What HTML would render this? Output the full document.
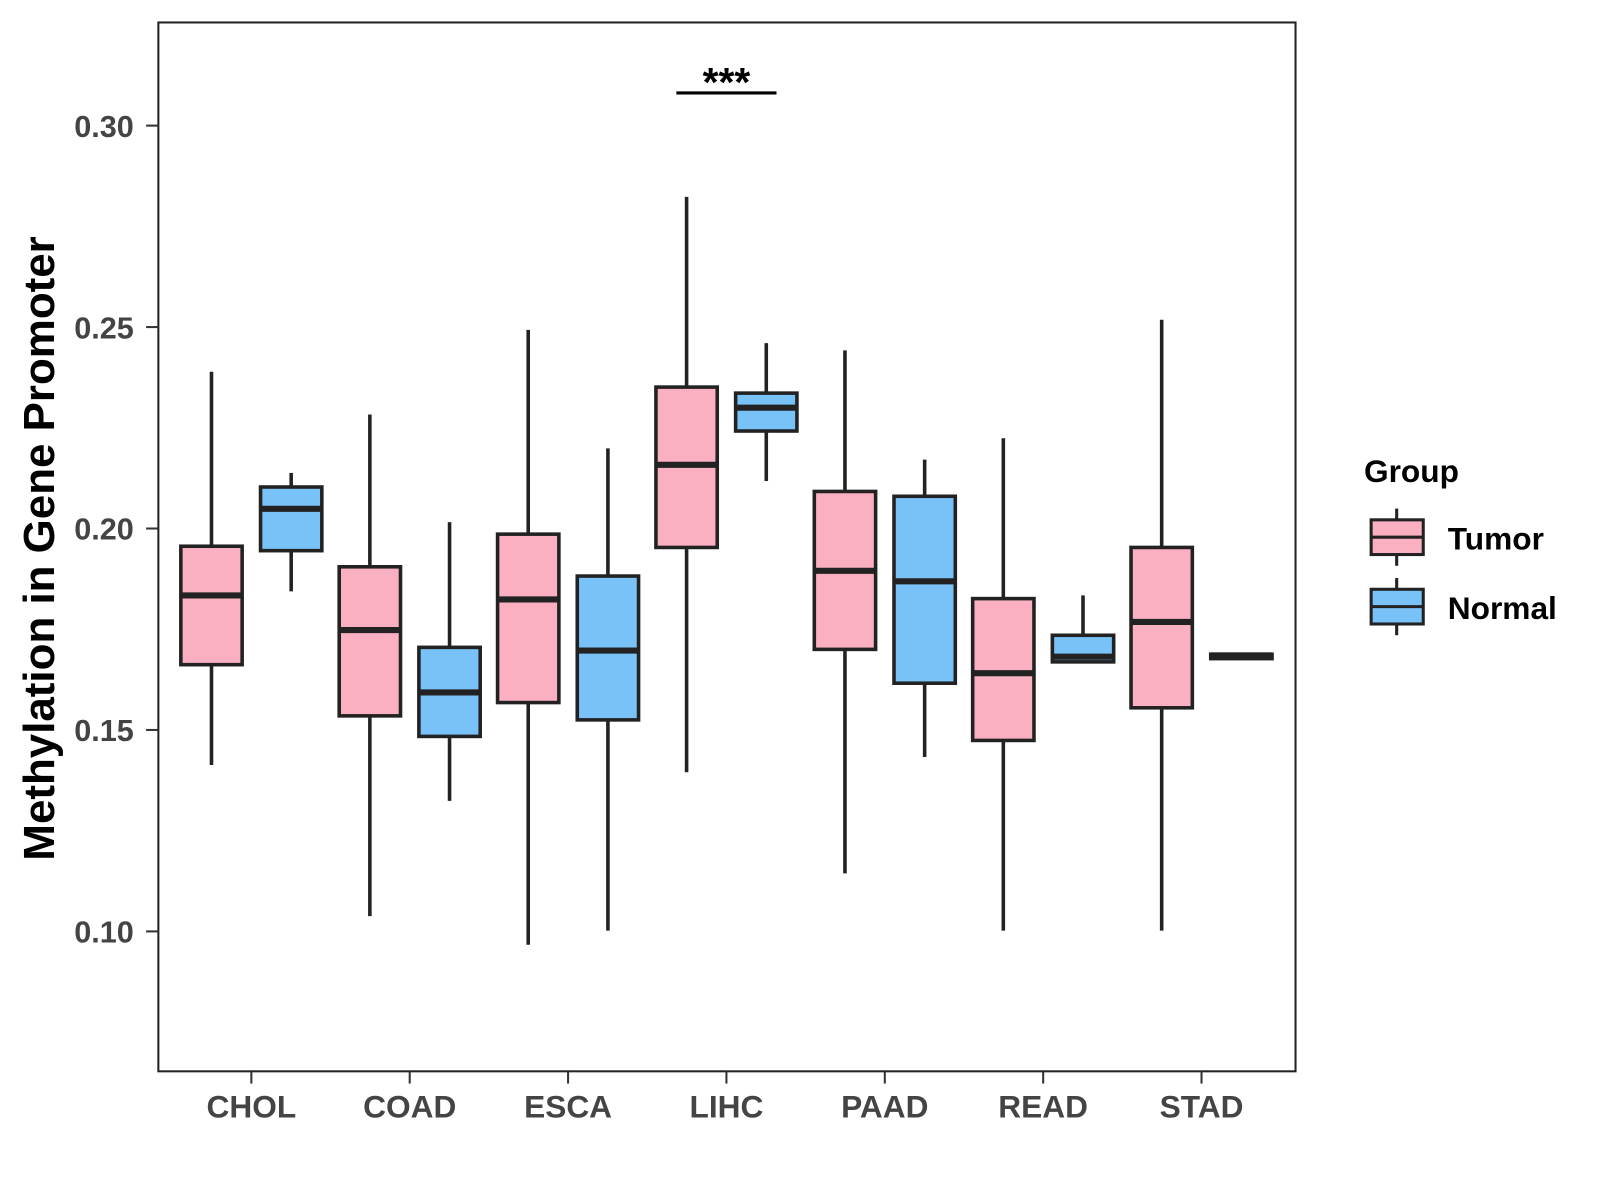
<!DOCTYPE html>
<html><head><meta charset="utf-8">
<style>
html,body{margin:0;padding:0;background:#fff;}
svg{display:block;font-family:"Liberation Sans",Arial,sans-serif;}
</style></head>
<body>
<svg id="chart" width="1600" height="1200" viewBox="0 0 1566 1175" preserveAspectRatio="none" xmlns="http://www.w3.org/2000/svg">
<rect x="155" y="22" width="1113" height="1027" fill="#fff" stroke="#222" stroke-width="2"/>
<g id="axes"></g>
<g id="boxes"></g>
<g>
<line x1="662" y1="91" x2="760" y2="91" stroke="#000" stroke-width="3"/>
<text x="711" y="94" text-anchor="middle" font-size="40" font-weight="bold">***</text>
</g>
<text transform="translate(53,537) rotate(-90)" text-anchor="middle" font-size="43" font-weight="bold">Methylation in Gene Promoter</text>
<g>
<text x="1335" y="472" font-size="31" font-weight="bold">Group</text>
<g>
<line x1="1367" y1="498" x2="1367" y2="554" stroke="#222" stroke-width="3"/>
<rect x="1342" y="509" width="51" height="34" fill="#FBB0C2" stroke="#222" stroke-width="3"/>
<line x1="1342" y1="526" x2="1393" y2="526" stroke="#222" stroke-width="3"/>
<text x="1417" y="538" font-size="31" font-weight="bold">Tumor</text>
</g>
<g>
<line x1="1367" y1="566" x2="1367" y2="622" stroke="#222" stroke-width="3"/>
<rect x="1342" y="577" width="51" height="34" fill="#78C2F8" stroke="#222" stroke-width="3"/>
<line x1="1342" y1="594" x2="1393" y2="594" stroke="#222" stroke-width="3"/>
<text x="1417" y="606" font-size="31" font-weight="bold">Normal</text>
</g>
</g>
</svg>
<script>
const categories = ["CHOL","COAD","ESCA","LIHC","PAAD","READ","STAD"];
const groups = ["Tumor","Normal"];
// [low, q1, median, q3, high]
const tumorStats = [
 [0.1413,0.1662,0.1834,0.1956,0.2389],
 [0.1038,0.1535,0.1748,0.1905,0.2283],
 [0.0967,0.1568,0.1824,0.1986,0.2493],
 [0.1395,0.1953,0.2158,0.2351,0.2823],
 [0.1144,0.1700,0.1895,0.2092,0.2442],
 [0.1002,0.1474,0.1641,0.1826,0.2224],
 [0.1002,0.1555,0.1768,0.1953,0.2518]
];
const normalStats = [
 [0.1844,0.1945,0.2049,0.2103,0.2138],
 [0.1324,0.1484,0.1593,0.1705,0.2016],
 [0.1002,0.1525,0.1697,0.1882,0.2199],
 [0.2118,0.2242,0.2300,0.2336,0.2460],
 [0.1433,0.1616,0.1869,0.2080,0.2171],
 [0.1669,0.1669,0.1682,0.1735,0.1834],
 [0.1677,0.1677,0.1685,0.1688,0.1690]
];
const yTicks = [0.10,0.15,0.20,0.25,0.30];
const yTickLabels = ["0.10","0.15","0.20","0.25","0.30"];

const NS="http://www.w3.org/2000/svg";
function yScale(v){ return 912 - (v-0.10)/0.20*789; }
function xScale(i){ return 246 + i*155; }
function mk(tag, attrs, parent){ const e=document.createElementNS(NS,tag); for(const k in attrs) e.setAttribute(k,attrs[k]); parent.appendChild(e); return e; }
const axes=document.getElementById('axes'), boxes=document.getElementById('boxes');
yTicks.forEach((t,i)=>{
  const y=yScale(t);
  const l=mk('line',{x1:143,x2:155,y1:y,y2:y,stroke:'#333','stroke-width':2},axes);
  
  
  const tx=mk('text',{x:131,y:y+11,'text-anchor':'end','font-size':30,'font-weight':'bold',fill:'#444'},axes);
  tx.textContent=yTickLabels[i];
  
  
});
categories.forEach((c,i)=>{
  const x=xScale(i);
  const l=mk('line',{x1:x,x2:x,y1:1049,y2:1061,stroke:'#333','stroke-width':2},axes);
  
  
  const tx=mk('text',{x:x,y:1094,'text-anchor':'middle','font-size':31,'font-weight':'bold',fill:'#444'},axes);
  tx.textContent=c;
  
  
});
function drawBox(s, cx, fill, name){
  const g=mk('g',{},boxes);
  
  
  const w=30;
  mk('line',{x1:cx,x2:cx,y1:yScale(s[4]),y2:yScale(s[3]),stroke:'#222','stroke-width':3.5},g);
  mk('line',{x1:cx,x2:cx,y1:yScale(s[1]),y2:yScale(s[0]),stroke:'#222','stroke-width':3.5},g);
  mk('rect',{x:cx-w,y:yScale(s[3]),width:2*w,height:Math.max(0.5,yScale(s[1])-yScale(s[3])),fill:fill,stroke:'#222','stroke-width':3.5},g);
  mk('line',{x1:cx-w,x2:cx+w,y1:yScale(s[2]),y2:yScale(s[2]),stroke:'#222','stroke-width':6},g);
}
categories.forEach((c,i)=>{
  drawBox(tumorStats[i], xScale(i)-39, '#FBB0C2', 'box-tumor-'+c.toLowerCase());
  drawBox(normalStats[i], xScale(i)+39, '#78C2F8', 'box-normal-'+c.toLowerCase());
});
</script>
</body></html>
